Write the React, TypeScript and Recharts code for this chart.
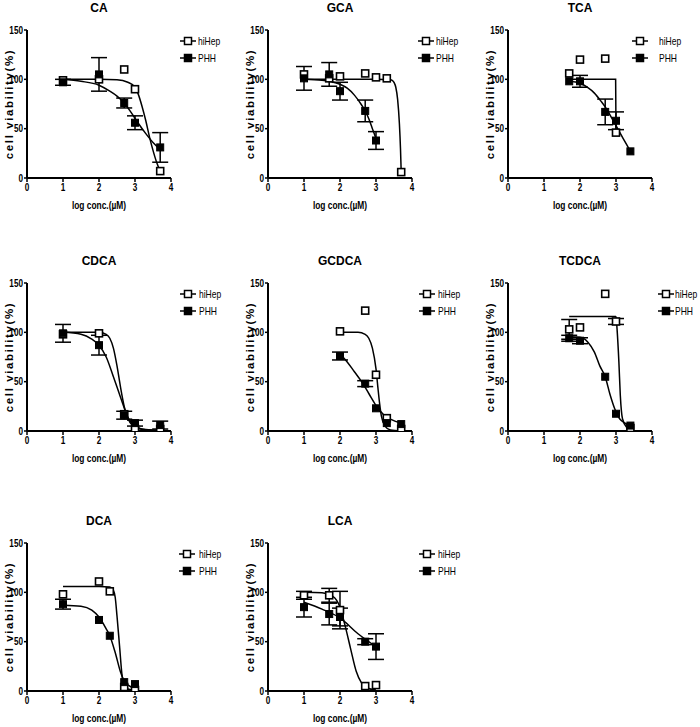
import { ComposedChart, Line, Scatter, ErrorBar, XAxis, YAxis } from 'recharts'

type Pt = [number, number, number?]

const X_TICKS = [0, 1, 2, 3, 4]
const Y_TICKS = [0, 50, 100, 150]
const SERIES = ['hiHep', 'PHH']
const X_LABEL = 'log conc.(µM)'
const Y_LABEL = 'cell viability(%)'

// points are [log conc, viability, sd]
const CA_HIHEP: Pt[] = [[1, 99], [2, 100], [2.7, 110], [3, 90], [3.7, 7]]
const CA_PHH: Pt[] = [[1, 97, 3], [2, 105, 17], [2.7, 76, 5], [3, 56, 7], [3.7, 31, 15]]
const CA_HIHEP_FIT: Pt[] = [[1, 100], [2, 100], [2.5, 99.5], [2.8, 97], [3, 92], [3.1, 84], [3.2, 72], [3.3, 58], [3.4, 42], [3.5, 28], [3.6, 16], [3.7, 7]]
const CA_PHH_FIT: Pt[] = [[1, 100], [1.5, 98], [2, 94], [2.3, 88], [2.5, 83], [2.7, 76], [2.9, 66], [3.1, 55], [3.3, 45], [3.5, 36], [3.7, 29]]

const GCA_HIHEP: Pt[] = [[1, 105], [1.7, 101], [2, 103], [2.7, 106], [3, 102], [3.3, 101], [3.7, 6]]
const GCA_PHH: Pt[] = [[1, 101, 12], [1.7, 105, 12], [2, 88, 9], [2.7, 68, 11], [3, 38, 9]]
const GCA_HIHEP_FIT: Pt[] = [[1, 100], [2, 100], [3, 100], [3.4, 99.5], [3.45, 99], [3.5, 97], [3.55, 92], [3.6, 80], [3.65, 55], [3.68, 30], [3.7, 6]]
const GCA_PHH_FIT: Pt[] = [[1, 100], [1.5, 99], [1.7, 98], [2, 95], [2.2, 91], [2.4, 84], [2.6, 74], [2.7, 68], [2.8, 60], [2.9, 50], [3, 40]]

const TCA_HIHEP: Pt[] = [[1.7, 106], [2, 120], [2.7, 121], [3, 46]]
const TCA_PHH: Pt[] = [[1.7, 98], [2, 98, 6], [2.7, 67, 13], [3, 58, 9], [3.4, 27]]
const TCA_HIHEP_FIT: Pt[] = [[1.7, 100], [2.5, 100], [2.99, 100], [3, 46]]
const TCA_PHH_FIT: Pt[] = [[1.7, 98], [2, 96], [2.2, 92], [2.4, 86], [2.6, 77], [2.7, 72], [2.8, 66], [3, 53], [3.2, 40], [3.4, 27]]

const CDCA_HIHEP: Pt[] = [[1, 98], [2, 99], [2.7, 17], [3, 2], [3.7, 2]]
const CDCA_PHH: Pt[] = [[1, 99, 9], [2, 87, 10], [2.7, 16, 4], [3, 8, 3], [3.7, 6, 4]]
const CDCA_HIHEP_FIT: Pt[] = [[1, 100], [2, 100], [2.2, 98], [2.3, 94], [2.4, 84], [2.5, 66], [2.6, 44], [2.7, 25], [2.8, 13], [2.95, 5], [3.2, 1.5], [3.7, 0.5]]
const CDCA_PHH_FIT: Pt[] = [[1, 100], [1.5, 98], [1.8, 93], [2, 87], [2.2, 75], [2.4, 55], [2.6, 34], [2.8, 14], [3, 5], [3.3, 1.5], [3.7, 0.5]]

const GCDCA_HIHEP: Pt[] = [[2, 101], [2.7, 122], [3, 57], [3.3, 13], [3.7, 2]]
const GCDCA_PHH: Pt[] = [[2, 76, 4], [2.7, 48, 3], [3, 23], [3.3, 8], [3.7, 7]]
const GCDCA_HIHEP_FIT: Pt[] = [[2, 100], [2.5, 100], [2.7, 98], [2.8, 94], [2.9, 84], [3, 63], [3.05, 45], [3.1, 28], [3.15, 15], [3.25, 5], [3.4, 1], [3.7, 0]]
const GCDCA_PHH_FIT: Pt[] = [[2, 78], [2.2, 70], [2.4, 60], [2.6, 50], [2.8, 38], [3, 26], [3.2, 17], [3.4, 12], [3.7, 8]]

const TCDCA_HIHEP: Pt[] = [[1.7, 103, 10], [2, 105], [2.7, 139], [3, 111, 3], [3.4, 3]]
const TCDCA_PHH: Pt[] = [[1.7, 94, 3], [2, 91.5, 3], [2.7, 55], [3, 17.5], [3.4, 5.5]]
const TCDCA_HIHEP_FIT: Pt[] = [[1.7, 116], [2.5, 116], [3, 116], [3.03, 103], [3.08, 70], [3.12, 36], [3.18, 12.5], [3.29, 4], [3.4, 1.7]]
const TCDCA_PHH_FIT: Pt[] = [[1.7, 95.6], [2, 95], [2.22, 90], [2.4, 80], [2.55, 66], [2.7, 55], [2.83, 37.5], [2.97, 22], [3.1, 12.5], [3.4, 5.7]]

const DCA_HIHEP: Pt[] = [[1, 98], [2, 111], [2.3, 101], [2.7, 4], [3, 1]]
const DCA_PHH: Pt[] = [[1, 88, 5], [2, 72], [2.3, 56], [2.7, 9], [3, 7]]
const DCA_HIHEP_FIT: Pt[] = [[1, 106], [2, 106], [2.3, 105.5], [2.4, 102], [2.45, 95], [2.5, 76], [2.57, 46], [2.64, 16], [2.7, 6], [2.8, 2], [3, 0.5]]
const DCA_PHH_FIT: Pt[] = [[1, 87], [1.5, 86], [1.8, 82], [2, 75], [2.2, 63], [2.3, 56], [2.45, 39], [2.6, 19], [2.7, 10], [2.85, 5], [3, 3]]

const LCA_HIHEP: Pt[] = [[1, 97, 4], [1.7, 97, 7], [2, 82, 19], [2.7, 5], [3, 6]]
const LCA_PHH: Pt[] = [[1, 85, 10], [1.7, 78, 11], [2, 75, 9], [2.7, 50, 3], [3, 45, 13]]
const LCA_HIHEP_FIT: Pt[] = [[1, 100], [1.5, 99.5], [1.8, 96], [2, 85], [2.15, 65], [2.3, 42], [2.45, 20], [2.6, 8], [2.75, 3], [3, 1]]
const LCA_PHH_FIT: Pt[] = [[1, 90], [1.5, 83], [2, 74], [2.5, 58], [3, 45]]

const PANELS = [
  { title: 'CA', hiHep: CA_HIHEP, phh: CA_PHH, hiHepFit: CA_HIHEP_FIT, phhFit: CA_PHH_FIT },
  { title: 'GCA', hiHep: GCA_HIHEP, phh: GCA_PHH, hiHepFit: GCA_HIHEP_FIT, phhFit: GCA_PHH_FIT },
  { title: 'TCA', hiHep: TCA_HIHEP, phh: TCA_PHH, hiHepFit: TCA_HIHEP_FIT, phhFit: TCA_PHH_FIT },
  { title: 'CDCA', hiHep: CDCA_HIHEP, phh: CDCA_PHH, hiHepFit: CDCA_HIHEP_FIT, phhFit: CDCA_PHH_FIT },
  { title: 'GCDCA', hiHep: GCDCA_HIHEP, phh: GCDCA_PHH, hiHepFit: GCDCA_HIHEP_FIT, phhFit: GCDCA_PHH_FIT },
  { title: 'TCDCA', hiHep: TCDCA_HIHEP, phh: TCDCA_PHH, hiHepFit: TCDCA_HIHEP_FIT, phhFit: TCDCA_PHH_FIT },
  { title: 'DCA', hiHep: DCA_HIHEP, phh: DCA_PHH, hiHepFit: DCA_HIHEP_FIT, phhFit: DCA_PHH_FIT },
  { title: 'LCA', hiHep: LCA_HIHEP, phh: LCA_PHH, hiHepFit: LCA_HIHEP_FIT, phhFit: LCA_PHH_FIT },
]

// where each small chart sits on the page, and where its legend goes
const LAYOUT = [
  { left: 0, top: 0, legX: 188, textX: 198 },
  { left: 241, top: 0, legX: 185, textX: 195 },
  { left: 481, top: 0, legX: 159, textX: 178 },
  { left: 0, top: 253, legX: 188, textX: 199 },
  { left: 241, top: 253, legX: 186, textX: 197 },
  { left: 481, top: 253, legX: 185, textX: 194 },
  { left: 0, top: 513, legX: 187, textX: 199 },
  { left: 241, top: 513, legX: 186, textX: 197 },
]

const FONT = '"Liberation Sans", Arial, sans-serif'
const W = 200
const H = 224
const PLOT_TOP = 30
const AXIS_W = 27
const PLOT_W = 144
const AXIS_H = 46
const LEG_Y = [41, 58]

const toPts = (arr: Pt[]) => arr.map(([x, y, err]) => ({ x, y, err: err ?? 0 }))

const OpenSquare = (p: any) =>
  p.cx == null ? null : <rect x={p.cx - 3.5} y={p.cy - 3.5} width={7} height={7} fill="#fff" stroke="#000" strokeWidth={1.6} />
const FilledSquare = (p: any) =>
  p.cx == null ? null : <rect x={p.cx - 3.5} y={p.cy - 3.5} width={7} height={7} fill="#000" stroke="#000" strokeWidth={1} />
const NoShape = () => <g />

// narrow bold tick text, like the condensed face of the original
const NarrowTick = (props: any) => {
  const { x, y, payload, textAnchor, verticalAnchor } = props
  return (
    <text
      x={x} y={y} dy={verticalAnchor === 'start' ? '0.71em' : '0.355em'} textAnchor={textAnchor}
      fontSize={10.5} fontWeight={700} fill="#000" fontFamily={FONT}
      style={{ transform: 'scaleX(0.78)', transformBox: 'fill-box', transformOrigin: textAnchor === 'end' ? 'right center' : 'center' }}
    >
      {payload.value}
    </text>
  )
}

function Panel({ panel, layout }: any) {
  const h = toPts(panel.hiHep)
  const p = toPts(panel.phh)
  return (
    <div style={{ position: 'absolute', left: layout.left, top: layout.top, width: W, height: H }}>
      <ComposedChart width={W} height={H} margin={{ top: PLOT_TOP, right: W - AXIS_W - PLOT_W, bottom: 0, left: 0 }}>
        <XAxis
          type="number" dataKey="x" domain={[0, 4]} ticks={X_TICKS} allowDataOverflow
          height={AXIS_H} tickSize={4} tickMargin={2}
          axisLine={{ stroke: '#000', strokeWidth: 2 }} tickLine={{ stroke: '#000', strokeWidth: 1.5 }}
          tick={<NarrowTick />}
          label={{
            value: X_LABEL, position: 'insideBottom', offset: 15,
            style: { fontSize: 11.5, fontWeight: 700, fill: '#000', fontFamily: FONT, transform: 'scaleX(0.73)', transformBox: 'fill-box', transformOrigin: 'center' },
          }}
        />
        <YAxis
          type="number" domain={[0, 150]} ticks={Y_TICKS} allowDataOverflow
          width={AXIS_W} tickSize={3} tickMargin={1}
          axisLine={{ stroke: '#000', strokeWidth: 2 }} tickLine={{ stroke: '#000', strokeWidth: 1.5 }}
          tick={<NarrowTick />}
          label={{
            value: Y_LABEL, angle: -90, position: 'insideLeft', offset: 9,
            style: { textAnchor: 'middle', fontSize: 11.5, fontWeight: 700, fill: '#000', letterSpacing: 1.6, fontFamily: FONT },
          }}
        />
        <Line data={toPts(panel.hiHepFit)} dataKey="y" type="monotone" stroke="#000" strokeWidth={1.5} dot={false} isAnimationActive={false} />
        <Line data={toPts(panel.phhFit)} dataKey="y" type="monotone" stroke="#000" strokeWidth={1.5} dot={false} isAnimationActive={false} />
        <Scatter data={h.filter(d => d.err > 0)} dataKey="y" shape={NoShape} isAnimationActive={false}>
          <ErrorBar dataKey="err" direction="y" width={8} stroke="#000" strokeWidth={1.5} />
        </Scatter>
        <Scatter data={p.filter(d => d.err > 0)} dataKey="y" shape={NoShape} isAnimationActive={false}>
          <ErrorBar dataKey="err" direction="y" width={8} stroke="#000" strokeWidth={1.5} />
        </Scatter>
        <Scatter data={h} dataKey="y" shape={OpenSquare} isAnimationActive={false} />
        <Scatter data={p} dataKey="y" shape={FilledSquare} isAnimationActive={false} />
      </ComposedChart>
      <div style={{ position: 'absolute', left: AXIS_W, width: PLOT_W, top: 2, textAlign: 'center', fontFamily: FONT, fontWeight: 700, fontSize: 12, lineHeight: '12px' }}>
        {panel.title}
      </div>
      {SERIES.map((s, i) => (
        <div key={s}>
          <svg style={{ position: 'absolute', left: layout.legX - 8, top: LEG_Y[i] - 5 }} width={16} height={10}>
            <line x1={0} x2={16} y1={5} y2={5} stroke="#000" strokeWidth={1.5} />
            <rect x={4.5} y={1.5} width={7} height={7} fill={i === 0 ? '#fff' : '#000'} stroke="#000" strokeWidth={1.5} />
          </svg>
          <div
            style={{
              position: 'absolute', left: layout.textX, top: LEG_Y[i] - 6, fontFamily: FONT, fontSize: 11.5, lineHeight: '12px',
              whiteSpace: 'nowrap', transform: 'scaleX(0.74)', transformOrigin: 'left center',
            }}
          >
            {s}
          </div>
        </div>
      ))}
    </div>
  )
}

export default function App() {
  return (
    <div style={{ position: 'absolute', left: 0, top: 0, width: 700, height: 727, overflow: 'hidden', background: '#fff' }}>
      {PANELS.map((panel, i) => (
        <Panel key={panel.title} panel={panel} layout={LAYOUT[i]} />
      ))}
    </div>
  )
}
